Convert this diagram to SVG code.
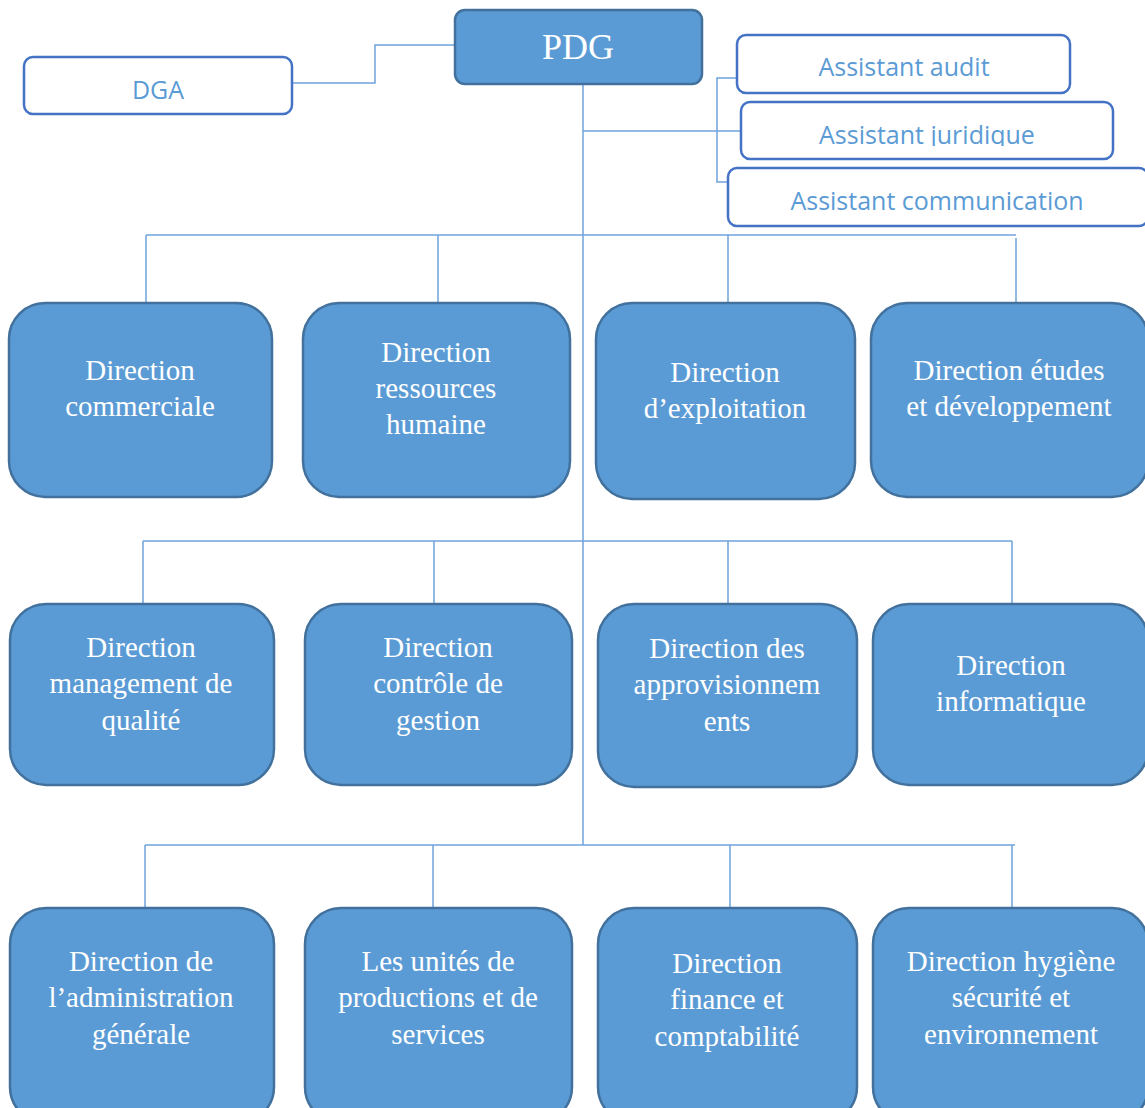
<svg xmlns="http://www.w3.org/2000/svg" width="1145" height="1108" viewBox="0 0 1145 1108">
  <style>
    .dir { fill: #5b9bd5; stroke: #41719c; stroke-width: 2.5; }
    .asst { fill: #ffffff; stroke: #4472c4; stroke-width: 2.5; }
    .dt { font-family: "Liberation Serif", "Times New Roman", serif; font-size: 29px; fill: #ffffff; text-anchor: middle; }
    .at { font-family: "Open Sans", "Liberation Sans", sans-serif; font-size: 25px; fill: #5b9bd5; text-anchor: middle; }
    .ln { fill: none; stroke: #6fa3dc; stroke-width: 1.5; }
  </style>
  <defs>
    <clipPath id="jurClip">
      <rect x="741" y="102" width="372" height="44"/>
    </clipPath>
  </defs>
  <rect width="1145" height="1108" fill="#ffffff"/>

  <!-- connectors -->
  <g id="connectors">
    <!-- trunk -->
    <path class="ln" d="M583 84 V845"/>
    <!-- DGA link -->
    <path class="ln" d="M292 83 H375 V45 H455"/>
    <!-- assistants -->
    <path class="ln" d="M583 131 H741"/>
    <path class="ln" d="M737 78 H717 V182 H728"/>
    <!-- row 1 bus -->
    <path class="ln" d="M146 235 H1016"/>
    <path class="ln" d="M146 235 V303 M438 235 V303 M728 235 V303 M1016 238 V303"/>
    <!-- row 2 bus -->
    <path class="ln" d="M143 541 H1012"/>
    <path class="ln" d="M143 541 V604 M434 541 V604 M728 541 V604 M1012 541 V604"/>
    <!-- row 3 bus -->
    <path class="ln" d="M145 845 H1015"/>
    <path class="ln" d="M145 845 V908 M433 845 V908 M730 845 V908 M1012 845 V908"/>
  </g>

  <!-- top level -->
  <g id="pdg">
    <rect class="dir" x="455" y="10" width="247" height="74" rx="10"/>
    <text class="dt" x="578" y="59" style="font-size:36px">PDG</text>
  </g>
  <g id="dga">
    <rect class="asst" x="24" y="57" width="268" height="57" rx="9"/>
    <text class="at" x="158" y="99">DGA</text>
  </g>
  <g id="assistant-audit">
    <rect class="asst" x="737" y="35" width="333" height="58" rx="9"/>
    <text class="at" x="904" y="76">Assistant audit</text>
  </g>
  <g id="assistant-juridique">
    <rect class="asst" x="741" y="102" width="372" height="57" rx="9"/>
    <text class="at" x="927" y="144" clip-path="url(#jurClip)">Assistant juridique</text>
  </g>
  <g id="assistant-communication">
    <rect class="asst" x="728" y="168" width="420" height="58" rx="9"/>
    <text class="at" x="937" y="210">Assistant communication</text>
  </g>

  <!-- row 1 -->
  <g id="dir-commerciale">
    <rect class="dir" x="9" y="303" width="263" height="194" rx="36"/>
    <text class="dt" x="140" y="380">Direction</text>
    <text class="dt" x="140" y="416">commerciale</text>
  </g>
  <g id="dir-rh">
    <rect class="dir" x="303" y="303" width="267" height="194" rx="36"/>
    <text class="dt" x="436" y="362">Direction</text>
    <text class="dt" x="436" y="398">ressources</text>
    <text class="dt" x="436" y="434">humaine</text>
  </g>
  <g id="dir-exploitation">
    <rect class="dir" x="596" y="303" width="259" height="196" rx="36"/>
    <text class="dt" x="725" y="382">Direction</text>
    <text class="dt" x="725" y="418">d’exploitation</text>
  </g>
  <g id="dir-etudes">
    <rect class="dir" x="871" y="303" width="277" height="194" rx="36"/>
    <text class="dt" x="1009" y="380">Direction études</text>
    <text class="dt" x="1009" y="416">et développement</text>
  </g>

  <!-- row 2 -->
  <g id="dir-qualite">
    <rect class="dir" x="10" y="604" width="264" height="181" rx="36"/>
    <text class="dt" x="141" y="657">Direction</text>
    <text class="dt" x="141" y="693">management de</text>
    <text class="dt" x="141" y="730">qualité</text>
  </g>
  <g id="dir-controle">
    <rect class="dir" x="305" y="604" width="267" height="181" rx="36"/>
    <text class="dt" x="438" y="657">Direction</text>
    <text class="dt" x="438" y="693">contrôle de</text>
    <text class="dt" x="438" y="730">gestion</text>
  </g>
  <g id="dir-approvisionnements">
    <rect class="dir" x="598" y="604" width="259" height="183" rx="36"/>
    <text class="dt" x="727" y="658">Direction des</text>
    <text class="dt" x="727" y="694">approvisionnem</text>
    <text class="dt" x="727" y="731">ents</text>
  </g>
  <g id="dir-informatique">
    <rect class="dir" x="873" y="604" width="275" height="181" rx="36"/>
    <text class="dt" x="1011" y="675">Direction</text>
    <text class="dt" x="1011" y="711">informatique</text>
  </g>

  <!-- row 3 -->
  <g id="dir-administration">
    <rect class="dir" x="10" y="908" width="264" height="215" rx="36"/>
    <text class="dt" x="141" y="971">Direction de</text>
    <text class="dt" x="141" y="1007">l’administration</text>
    <text class="dt" x="141" y="1044">générale</text>
  </g>
  <g id="unites-production">
    <rect class="dir" x="305" y="908" width="267" height="215" rx="36"/>
    <text class="dt" x="438" y="971">Les unités de</text>
    <text class="dt" x="438" y="1007">productions et de</text>
    <text class="dt" x="438" y="1044">services</text>
  </g>
  <g id="dir-finance">
    <rect class="dir" x="598" y="908" width="259" height="215" rx="36"/>
    <text class="dt" x="727" y="973">Direction</text>
    <text class="dt" x="727" y="1009">finance et</text>
    <text class="dt" x="727" y="1046">comptabilité</text>
  </g>
  <g id="dir-hse">
    <rect class="dir" x="873" y="908" width="275" height="215" rx="36"/>
    <text class="dt" x="1011" y="971">Direction hygiène</text>
    <text class="dt" x="1011" y="1007">sécurité et</text>
    <text class="dt" x="1011" y="1044">environnement</text>
  </g>
</svg>
